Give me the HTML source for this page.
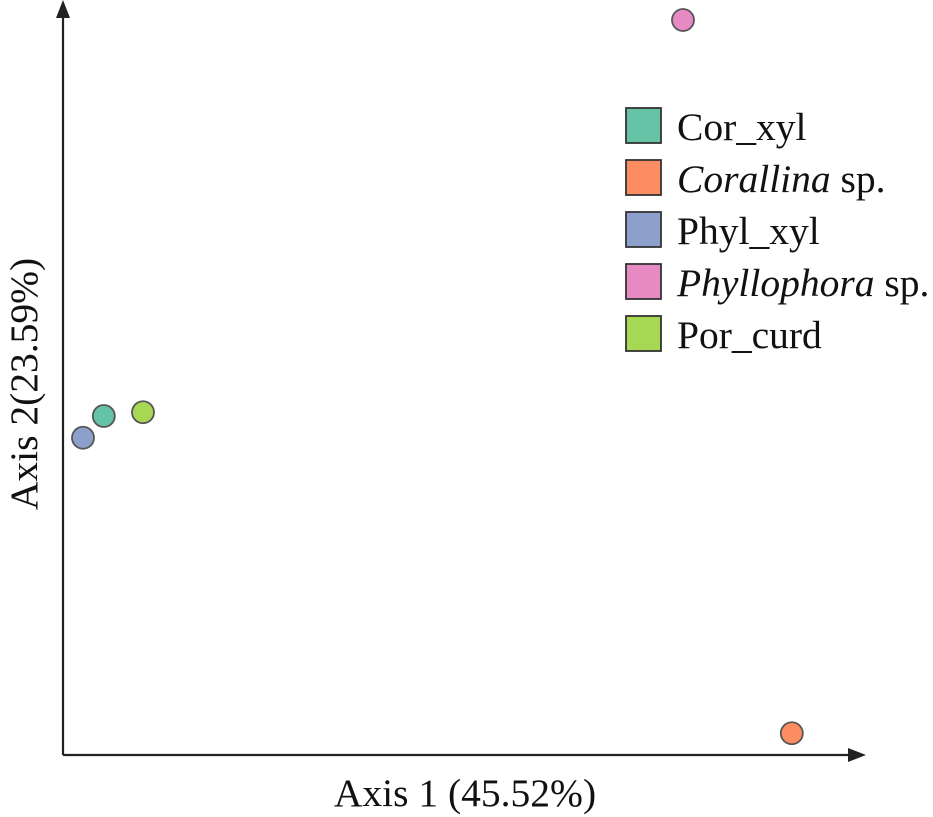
<!DOCTYPE html>
<html><head><meta charset="utf-8"><style>
html,body{margin:0;padding:0;background:#fff;}
svg{display:block;font-family:"Liberation Serif",serif;}
</style></head><body>
<svg id="chart" width="933" height="817" viewBox="0 0 933 817">
<g id="axes">
<line x1="63" y1="755" x2="63" y2="10" stroke="#222" stroke-width="2.2"/>
<polygon points="63,0 56,18 70,18" fill="#222"/>
<line x1="63" y1="755" x2="855" y2="755" stroke="#222" stroke-width="2.2"/>
<polygon points="866,755 848,748 848,762" fill="#222"/>
<text x="465" y="806" text-anchor="middle" font-size="39.5" fill="#111">Axis 1 (45.52%)</text>
<text transform="translate(37,384) rotate(-90)" text-anchor="middle" font-size="39.5" fill="#111">Axis 2(23.59%)</text>
</g>
<g id="points"></g>
<g id="legend"></g>
</svg>
<script>
const labels = ["Cor_xyl","Corallina","Phyl_xyl","Phyllophora","Por_curd"];
const colors = ["#66c2a5","#fc8d62","#8da0cb","#e78ac3","#a6d854"];
const xVals = [5.1, 91.1, 2.5, 77.5, 10.0];
const yVals = [45.2, 2.9, 42.3, 98.0, 45.7];
const NS="http://www.w3.org/2000/svg";
function xScale(v){return 63+v*8;}
function yScale(v){return 755-v*7.5;}
const pg=document.getElementById('points');
for(let i=0;i<labels.length;i++){
  const c=document.createElementNS(NS,'circle');
  c.setAttribute('cx',xScale(xVals[i]));
  c.setAttribute('cy',yScale(yVals[i]));
  c.setAttribute('r',11);
  c.setAttribute('fill',colors[i]);
  c.setAttribute('stroke','#555');
  c.setAttribute('stroke-width','1.8');
  
  
  pg.appendChild(c);
}
const lg=document.getElementById('legend');
const legendHtml=[
 'Cor_xyl',
 '<tspan font-style="italic">Corallina</tspan> sp.',
 'Phyl_xyl',
 '<tspan font-style="italic">Phyllophora</tspan> sp.',
 'Por_curd'];
for(let i=0;i<labels.length;i++){
  const g=document.createElementNS(NS,'g');
  
  
  const y=108+i*52;
  const r=document.createElementNS(NS,'rect');
  r.setAttribute('x',626);r.setAttribute('y',y);r.setAttribute('width',35);r.setAttribute('height',35);
  r.setAttribute('fill',colors[i]);r.setAttribute('stroke','#333');r.setAttribute('stroke-width','1.8');
  
  
  const t=document.createElementNS(NS,'text');
  t.setAttribute('x',677);t.setAttribute('y',y+32);t.setAttribute('font-size','39.5');t.setAttribute('fill','#111');
  
  
  t.innerHTML=legendHtml[i];
  g.appendChild(r);g.appendChild(t);lg.appendChild(g);
}
</script>
</body></html>
